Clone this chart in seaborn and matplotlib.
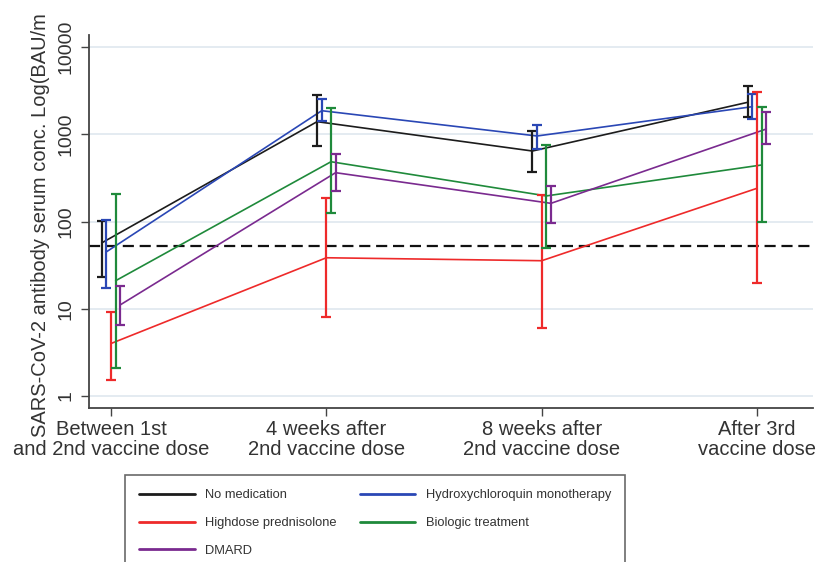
import numpy as np
import pandas as pd
import matplotlib
matplotlib.use("Agg")
import matplotlib.pyplot as plt
from matplotlib.lines import Line2D
import seaborn as sns

# Time points of antibody measurement
timepoints = ["Between 1st\nand 2nd vaccine dose", "4 weeks after\n2nd vaccine dose",
              "8 weeks after\n2nd vaccine dose", "After 3rd\nvaccine dose"]

groups = ["No medication", "Hydroxychloroquin monotherapy", "Highdose prednisolone",
          "Biologic treatment", "DMARD"]

# Geometric mean antibody concentration (BAU/ml) with 95% CI per group
no_med_mean = [57, 1400, 645, 2335]
no_med_lo = [23.3, 736, 374, 1570]
no_med_hi = [102, 2830, 1104, 3590]

hcq_mean = [45, 1870, 959, 2080]
hcq_lo = [17.2, 1436, 675, 1490]
hcq_hi = [104, 2550, 1282, 2905]

pred_mean = [4.0, 38.5, 35.6, 241]
pred_lo = [1.53, 8.0, 6.1, 19.6]
pred_hi = [9.3, 188, 202, 3040]

bio_mean = [21, 486, 197, 446]
bio_lo = [2.08, 124, 49.4, 99.7]
bio_hi = [207, 2025, 756, 2046]

dmard_mean = [11.1, 364, 162, 1153]
dmard_lo = [6.5, 226, 97, 776]
dmard_hi = [18.3, 596, 258, 1792]

# Seropositivity cut-off (BAU/ml)
threshold = 53

ytick_values = [1, 10, 100, 1000, 10000]
ytick_labels = ["1", "10", "100", "1000", "10000"]

colors = {
    "No medication": "#1c1c1c",
    "Hydroxychloroquin monotherapy": "#2a47b5",
    "Highdose prednisolone": "#ee2a2a",
    "Biologic treatment": "#1f8a3b",
    "DMARD": "#7a2a8f",
}
# small horizontal shift so the intervals do not overlap
dodge = {
    "No medication": -2,
    "Hydroxychloroquin monotherapy": -1,
    "Highdose prednisolone": 0,
    "Biologic treatment": 1,
    "DMARD": 2,
}
step = 0.0215

series = {
    "No medication": (no_med_mean, no_med_lo, no_med_hi),
    "Hydroxychloroquin monotherapy": (hcq_mean, hcq_lo, hcq_hi),
    "Highdose prednisolone": (pred_mean, pred_lo, pred_hi),
    "Biologic treatment": (bio_mean, bio_lo, bio_hi),
    "DMARD": (dmard_mean, dmard_lo, dmard_hi),
}

rows = []
for g in groups:
    m, lo, hi = series[g]
    for i in range(len(timepoints)):
        rows.append({"group": g, "x": i + dodge[g] * step,
                     "mean": m[i], "lo": lo[i], "hi": hi[i]})
df = pd.DataFrame(rows)

sns.set_theme(style="white")
plt.rcParams["font.family"] = ["Liberation Sans", "DejaVu Sans"]
text_color = "#333333"

fig = plt.figure(figsize=(8.2, 5.62), dpi=100)
ax = fig.add_axes([89.5 / 820, 1 - 408.3 / 562, (813 - 89.5) / 820, (408.3 - 35) / 562])

ax.set_yscale("log")
ax.set_ylim(10 ** -0.141, 10 ** 4.14)
ax.set_xlim(-0.0999, 3.26)

ax.yaxis.grid(True, color="#e2e9f0", linewidth=1.3)
ax.xaxis.grid(False)
ax.set_axisbelow(True)

ax.axhline(threshold, color="#111111", linestyle=(0, (5, 2.6)), linewidth=1.6, zorder=2)

sns.lineplot(data=df, x="x", y="mean", hue="group", palette=colors,
             estimator=None, sort=True, legend=False, linewidth=1.2, ax=ax, zorder=3)

for g in groups:
    d = df[df["group"] == g]
    ax.errorbar(d["x"], d["mean"], yerr=[d["mean"] - d["lo"], d["hi"] - d["mean"]],
                fmt="none", ecolor=colors[g], elinewidth=1.6, capsize=3.6,
                capthick=1.6, zorder=4)

ax.set_xticks(range(len(timepoints)))
ax.set_xticklabels(timepoints, fontsize=14.5, color=text_color, linespacing=1.05)
ax.set_yticks(ytick_values)
ax.set_yticklabels(ytick_labels, fontsize=14, color=text_color, rotation=90, va="center")
ax.minorticks_off()
ax.tick_params(axis="both", which="major", length=5.5, width=1.0, color="#444444",
               direction="out", left=True, bottom=True)
ax.tick_params(axis="y", pad=5)
ax.tick_params(axis="x", pad=3)
ax.set_xlabel("")

for side in ["top", "right"]:
    ax.spines[side].set_visible(False)
for side in ["left", "bottom"]:
    ax.spines[side].set_color("#444444")
    ax.spines[side].set_linewidth(1.3)

ax.set_ylabel("SARS-CoV-2 antibody serum conc. Log(BAU/m", fontsize=14.5,
              color=text_color, va="center")
ax.yaxis.set_label_coords((41 - 89.5) / (813 - 89.5), (408.3 - 225) / (408.3 - 35))

legend_order = ["No medication", "Highdose prednisolone", "DMARD",
                "Hydroxychloroquin monotherapy", "Biologic treatment"]
handles = [Line2D([0], [0], color=colors[g], linewidth=2.0) for g in legend_order]
leg = fig.legend(handles, legend_order, loc="upper left",
                 bbox_to_anchor=(125 / 820, 1 - 475 / 562), ncol=2, fontsize=9.3,
                 frameon=True, fancybox=False, edgecolor="#444444",
                 handlelength=4.3, handletextpad=0.8, columnspacing=1.8,
                 labelspacing=1.22, borderpad=1.1, borderaxespad=0)
leg.get_frame().set_linewidth(1.2)
for t in leg.get_texts():
    t.set_color(text_color)

fig.savefig("out.png", dpi=100, facecolor="white")
